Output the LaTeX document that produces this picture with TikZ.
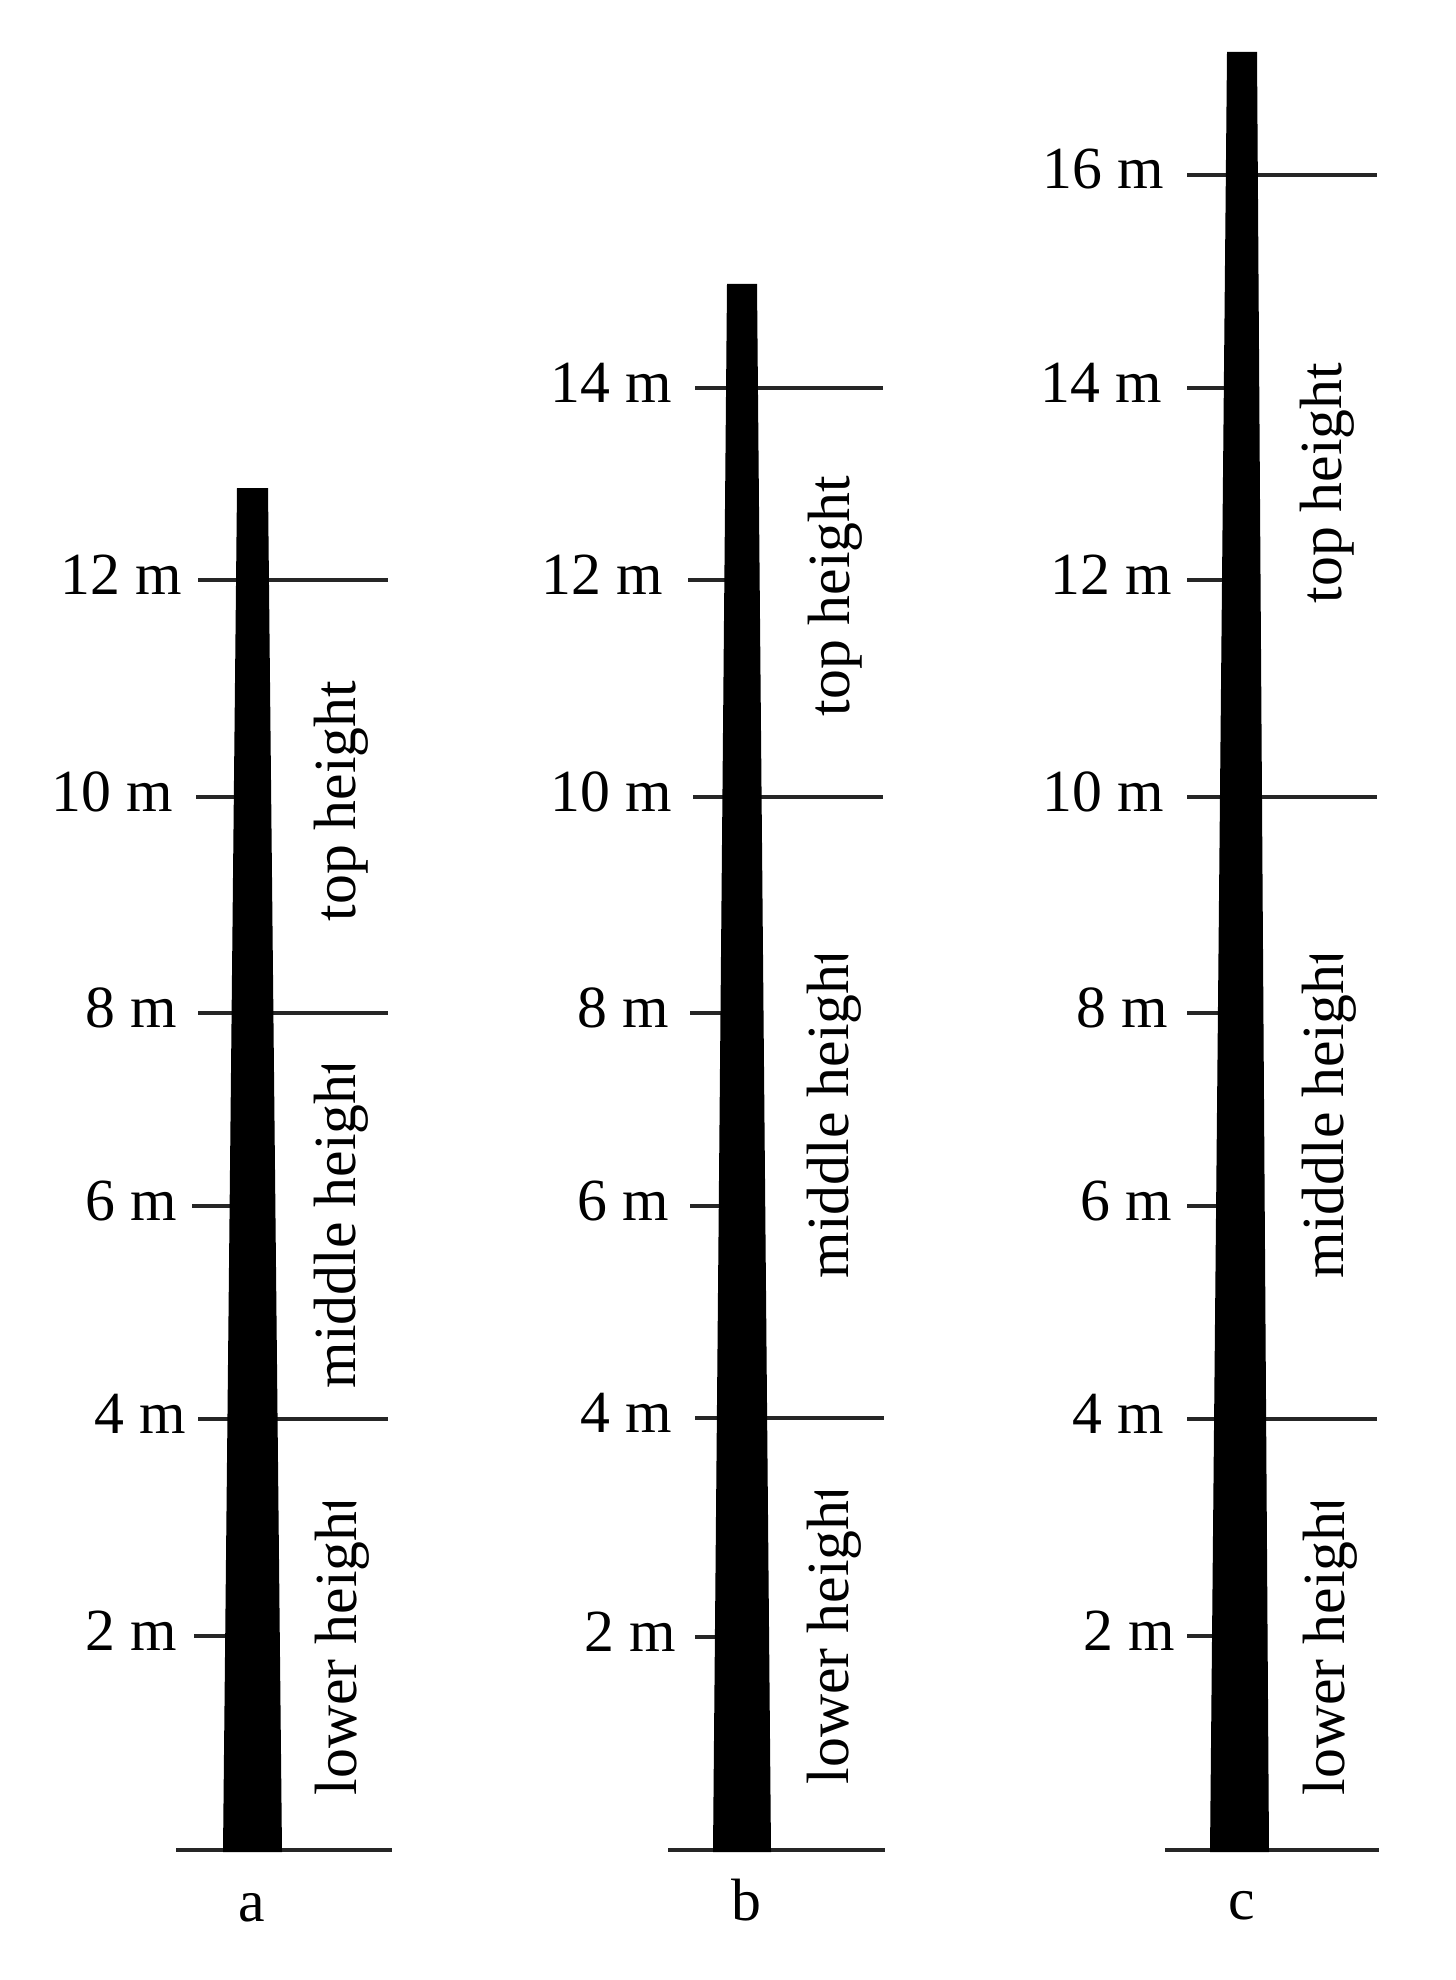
\documentclass[tikz,border=0pt]{standalone}
\usepackage{fontspec}
\setmainfont{Liberation Serif}
\usetikzlibrary{calc}
\newlength\midlen
\newlength\lowlen
\newcommand\labfont{\fontsize{34}{40}\selectfont}
% rotated label whose last letter is cut off at the top, as in the reference
\newcommand\cutlabel[5]{% name, x, y, text, text length
  \begin{scope}
    \clip ($(#2,-#3)+(-1.5cm,{-0.5*#5-10pt})$) rectangle ($(#2,-#3)+(1.5cm,{0.5*#5-4.5pt})$);
    \node[vlab] (#1) at (#2,-#3) {#4};
  \end{scope}}
\begin{document}
\settowidth{\midlen}{\labfont middle height}%
\settowidth{\lowlen}{\labfont lower height}%
\begin{tikzpicture}[x=0.02cm,y=0.02cm,
  tickline/.style={line width=0.062cm, black!85},
  trunk/.style={fill=black},
  hlab/.style={font=\labfont, anchor=base east, inner sep=0},
  vlab/.style={font=\labfont, rotate=90, inner sep=0},
  letterlab/.style={font=\labfont, anchor=base, inner sep=0}]
\useasboundingbox (0,0) rectangle (1455,-1980);

% ---------- tree a ----------
\draw[tickline] (198,-580) -- (388,-580);
\draw[tickline] (196,-797) -- (250,-797);
\draw[tickline] (198,-1013) -- (388,-1013);
\draw[tickline] (192,-1206) -- (250,-1206);
\draw[tickline] (198,-1419) -- (388,-1419);
\draw[tickline] (194,-1636) -- (250,-1636);
\draw[tickline] (176,-1850) -- (392,-1850);
\fill[trunk] (237,-488) -- (268,-488) -- (282,-1852) -- (223,-1852) -- cycle;
\node[hlab] (a12) at (182,-594) {12 m};
\node[hlab] (a10) at (173,-811) {10 m};
\node[hlab] (a8) at (177,-1027) {8 m};
\node[hlab] (a6) at (177,-1220) {6 m};
\node[hlab] (a4) at (186,-1433) {4 m};
\node[hlab] (a2) at (177,-1650) {2 m};
\node[vlab] (atop) at (341,-801) {top height};
\cutlabel{amid}{341}{1223}{middle height}{\midlen}
\cutlabel{alow}{342}{1645}{lower height}{\lowlen}
\node[letterlab] (aname) at (252,-1921) {a};

% ---------- tree b ----------
\draw[tickline] (695,-388) -- (883,-388);
\draw[tickline] (688,-580) -- (742,-580);
\draw[tickline] (693,-797) -- (883,-797);
\draw[tickline] (690,-1013) -- (742,-1013);
\draw[tickline] (690,-1206) -- (742,-1206);
\draw[tickline] (695,-1418) -- (884,-1418);
\draw[tickline] (695,-1637) -- (742,-1637);
\draw[tickline] (668,-1850) -- (885,-1850);
\fill[trunk] (727,-284) -- (757,-284) -- (771,-1852) -- (713,-1852) -- cycle;
\node[hlab] (b14) at (672,-402) {14 m};
\node[hlab] (b12) at (663,-594) {12 m};
\node[hlab] (b10) at (672,-811) {10 m};
\node[hlab] (b8) at (669,-1027) {8 m};
\node[hlab] (b6) at (669,-1220) {6 m};
\node[hlab] (b4) at (672,-1432) {4 m};
\node[hlab] (b2) at (676,-1651) {2 m};
\node[vlab] (btop) at (835,-596) {top height};
\cutlabel{bmid}{834}{1113}{middle height}{\midlen}
\cutlabel{blow}{834}{1634}{lower height}{\lowlen}
\node[letterlab] (bname) at (746,-1920) {b};

% ---------- tree c ----------
\draw[tickline] (1187,-175) -- (1377,-175);
\draw[tickline] (1187,-388) -- (1240,-388);
\draw[tickline] (1187,-580) -- (1240,-580);
\draw[tickline] (1187,-797) -- (1377,-797);
\draw[tickline] (1187,-1013) -- (1240,-1013);
\draw[tickline] (1187,-1206) -- (1240,-1206);
\draw[tickline] (1187,-1419) -- (1377,-1419);
\draw[tickline] (1187,-1636) -- (1240,-1636);
\draw[tickline] (1165,-1850) -- (1379,-1850);
\fill[trunk] (1227,-52) -- (1257,-52) -- (1269,-1852) -- (1210,-1852) -- cycle;
\node[hlab] (c16) at (1164,-189) {16 m};
\node[hlab] (c14) at (1162,-402) {14 m};
\node[hlab] (c12) at (1172,-594) {12 m};
\node[hlab] (c10) at (1164,-811) {10 m};
\node[hlab] (c8) at (1168,-1027) {8 m};
\node[hlab] (c6) at (1172,-1220) {6 m};
\node[hlab] (c4) at (1164,-1433) {4 m};
\node[hlab] (c2) at (1175,-1650) {2 m};
\node[vlab] (ctop) at (1327,-483) {top height};
\cutlabel{cmid}{1329}{1113}{middle height}{\midlen}
\cutlabel{clow}{1330}{1645}{lower height}{\lowlen}
\node[letterlab] (cname) at (1242,-1919) {c};
\end{tikzpicture}
\end{document}
